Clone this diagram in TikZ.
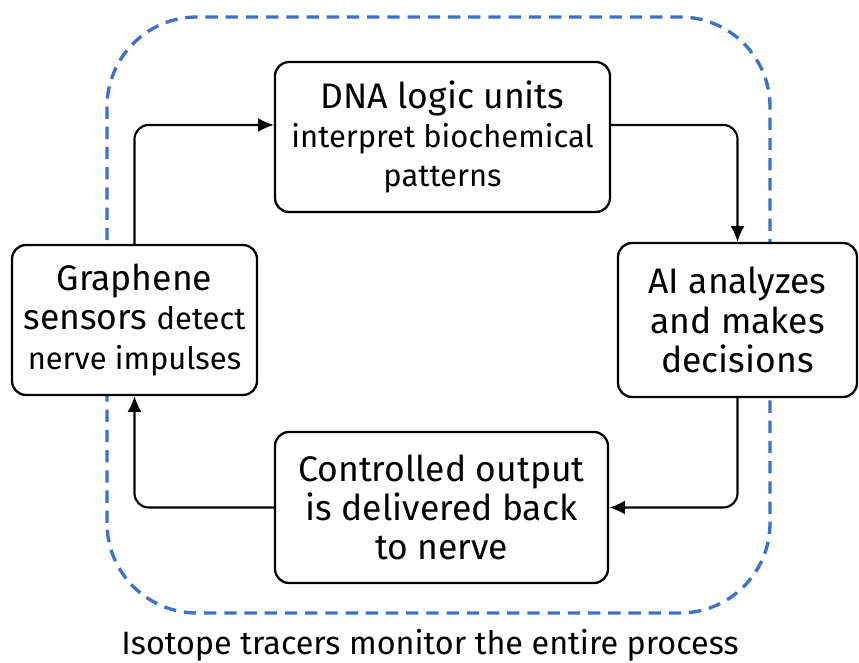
\documentclass[tikz,border=0pt]{standalone}
\usepackage{fontspec}
\setmainfont{Fira Sans}
\usetikzlibrary{arrows.meta}
\definecolor{tracerblue}{RGB}{62,112,200}
\newcommand{\lgtxt}{\fontsize{20.2}{22.4}\selectfont}
\newcommand{\smtxt}{\fontsize{17.6}{22.4}\selectfont}
\tikzset{
	stage/.style={draw,line width=1.3pt,rounded corners=8pt,fill=white,align=center,inner sep=0pt,font=\lgtxt},
	flow/.style={-{Latex[length=9pt,width=8pt]},line width=1.2pt,rounded corners=8pt},
}
\begin{document}
\begin{tikzpicture}
	\useasboundingbox (0,0) rectangle (17.18,13.26);
	% monitoring loop
	\draw[tracerblue,line width=1.9pt,dash pattern=on 7pt off 4.5pt,rounded corners=1.8cm]
		(2.14,1.0) rectangle (15.4,12.92);

	\node[stage,minimum width=6.7cm,minimum height=3.0cm] at (8.85,10.52)(dna)
		{DNA logic units\\\smtxt interpret biochemical\\\smtxt patterns};
	\node[stage,minimum width=4.78cm,minimum height=3.08cm] at (14.75,6.86)(ai)
		{AI analyzes\\and makes\\decisions};
	\node[stage,minimum width=6.66cm,minimum height=3.02cm] at (8.83,3.11)(out)
		{Controlled output\\is delivered back\\to nerve};
	\node[stage,minimum width=4.9cm,minimum height=3.0cm] at (2.69,6.86)(gra)
		{Graphene\\sensors {\smtxt detect}\\\smtxt nerve impulses};

	\node[font=\fontsize{18.4}{22}\selectfont] at (8.6,0.36)(note){Isotope tracers monitor the entire process};

	\draw[flow] (gra.north) |- ([yshift=0.24cm]dna.west);
	\draw[flow] ([yshift=0.24cm]dna.east) -| (ai.north);
	\draw[flow] (ai.south) |- (out.east);
	\draw[flow] (out.west) -| (gra.south);
\end{tikzpicture}
\end{document}
